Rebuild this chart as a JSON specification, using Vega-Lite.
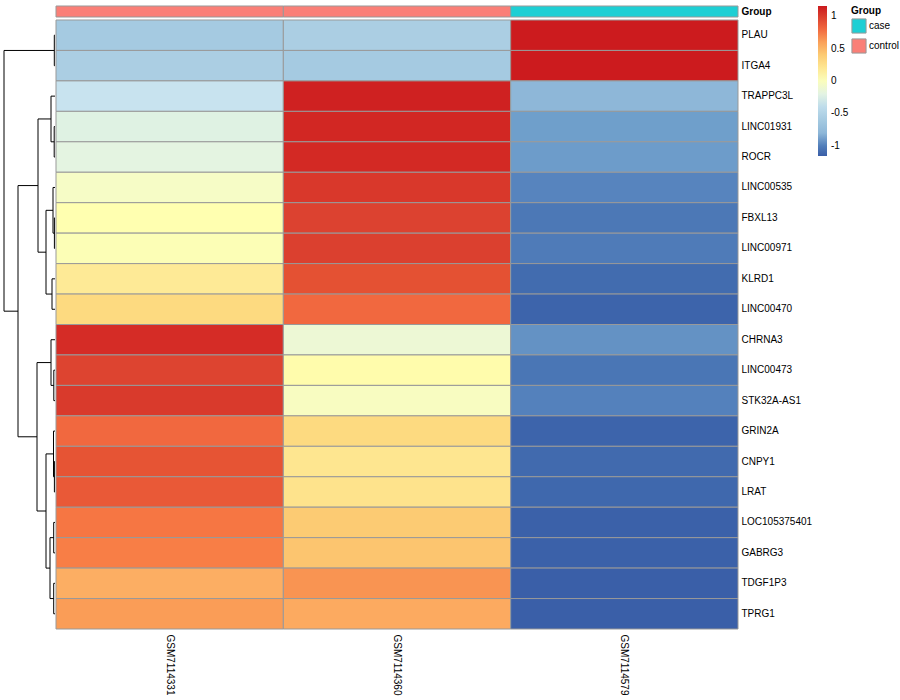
{
  "$schema": "https://vega.github.io/schema/vega-lite/v6.json",
  "padding": {"left": 3, "top": 5, "right": 5, "bottom": 5},
  "config": {
    "view": {"stroke": null},
    "font": "Liberation Sans",
    "axis": {"labelFont": "Liberation Sans", "labelColor": "#000000", "labelFontSize": 10}
  },
  "datasets": {
    "heat": [
      {"gene": "PLAU", "sample": "GSM7114331", "value": -0.60},
      {"gene": "PLAU", "sample": "GSM7114360", "value": -0.55},
      {"gene": "PLAU", "sample": "GSM7114579", "value": 1.15},
      {"gene": "ITGA4", "sample": "GSM7114331", "value": -0.55},
      {"gene": "ITGA4", "sample": "GSM7114360", "value": -0.60},
      {"gene": "ITGA4", "sample": "GSM7114579", "value": 1.15},
      {"gene": "TRAPPC3L", "sample": "GSM7114331", "value": -0.32},
      {"gene": "TRAPPC3L", "sample": "GSM7114360", "value": 1.12},
      {"gene": "TRAPPC3L", "sample": "GSM7114579", "value": -0.80},
      {"gene": "LINC01931", "sample": "GSM7114331", "value": -0.21},
      {"gene": "LINC01931", "sample": "GSM7114360", "value": 1.09},
      {"gene": "LINC01931", "sample": "GSM7114579", "value": -0.88},
      {"gene": "ROCR", "sample": "GSM7114331", "value": -0.19},
      {"gene": "ROCR", "sample": "GSM7114360", "value": 1.08},
      {"gene": "ROCR", "sample": "GSM7114579", "value": -0.89},
      {"gene": "LINC00535", "sample": "GSM7114331", "value": -0.04},
      {"gene": "LINC00535", "sample": "GSM7114360", "value": 1.02},
      {"gene": "LINC00535", "sample": "GSM7114579", "value": -0.98},
      {"gene": "FBXL13", "sample": "GSM7114331", "value": 0.04},
      {"gene": "FBXL13", "sample": "GSM7114360", "value": 0.98},
      {"gene": "FBXL13", "sample": "GSM7114579", "value": -1.02},
      {"gene": "LINC00971", "sample": "GSM7114331", "value": 0.02},
      {"gene": "LINC00971", "sample": "GSM7114360", "value": 0.99},
      {"gene": "LINC00971", "sample": "GSM7114579", "value": -1.01},
      {"gene": "KLRD1", "sample": "GSM7114331", "value": 0.18},
      {"gene": "KLRD1", "sample": "GSM7114360", "value": 0.90},
      {"gene": "KLRD1", "sample": "GSM7114579", "value": -1.08},
      {"gene": "LINC00470", "sample": "GSM7114331", "value": 0.32},
      {"gene": "LINC00470", "sample": "GSM7114360", "value": 0.80},
      {"gene": "LINC00470", "sample": "GSM7114579", "value": -1.12},
      {"gene": "CHRNA3", "sample": "GSM7114331", "value": 1.06},
      {"gene": "CHRNA3", "sample": "GSM7114360", "value": -0.13},
      {"gene": "CHRNA3", "sample": "GSM7114579", "value": -0.93},
      {"gene": "LINC00473", "sample": "GSM7114331", "value": 0.97},
      {"gene": "LINC00473", "sample": "GSM7114360", "value": 0.06},
      {"gene": "LINC00473", "sample": "GSM7114579", "value": -1.03},
      {"gene": "STK32A-AS1", "sample": "GSM7114331", "value": 1.01},
      {"gene": "STK32A-AS1", "sample": "GSM7114360", "value": -0.02},
      {"gene": "STK32A-AS1", "sample": "GSM7114579", "value": -0.99},
      {"gene": "GRIN2A", "sample": "GSM7114331", "value": 0.80},
      {"gene": "GRIN2A", "sample": "GSM7114360", "value": 0.32},
      {"gene": "GRIN2A", "sample": "GSM7114579", "value": -1.12},
      {"gene": "CNPY1", "sample": "GSM7114331", "value": 0.88},
      {"gene": "CNPY1", "sample": "GSM7114360", "value": 0.21},
      {"gene": "CNPY1", "sample": "GSM7114579", "value": -1.09},
      {"gene": "LRAT", "sample": "GSM7114331", "value": 0.86},
      {"gene": "LRAT", "sample": "GSM7114360", "value": 0.24},
      {"gene": "LRAT", "sample": "GSM7114579", "value": -1.10},
      {"gene": "LOC105375401", "sample": "GSM7114331", "value": 0.74},
      {"gene": "LOC105375401", "sample": "GSM7114360", "value": 0.40},
      {"gene": "LOC105375401", "sample": "GSM7114579", "value": -1.14},
      {"gene": "GABRG3", "sample": "GSM7114331", "value": 0.71},
      {"gene": "GABRG3", "sample": "GSM7114360", "value": 0.43},
      {"gene": "GABRG3", "sample": "GSM7114579", "value": -1.14},
      {"gene": "TDGF1P3", "sample": "GSM7114331", "value": 0.50},
      {"gene": "TDGF1P3", "sample": "GSM7114360", "value": 0.65},
      {"gene": "TDGF1P3", "sample": "GSM7114579", "value": -1.15},
      {"gene": "TPRG1", "sample": "GSM7114331", "value": 0.62},
      {"gene": "TPRG1", "sample": "GSM7114360", "value": 0.53},
      {"gene": "TPRG1", "sample": "GSM7114579", "value": -1.15}
    ],
    "ann": [
      {"sample": "GSM7114331", "group": "control", "track": "Group"},
      {"sample": "GSM7114360", "group": "control", "track": "Group"},
      {"sample": "GSM7114579", "group": "case", "track": "Group"}
    ],
    "dendro": [
      {"h1": 0.07, "h2": 0.07, "p1": 0.5, "p2": 1.5},
      {"h1": 0, "h2": 0.07, "p1": 0.5, "p2": 0.5},
      {"h1": 0, "h2": 0.07, "p1": 1.5, "p2": 1.5},
      {"h1": 0.08, "h2": 0.08, "p1": 3.5, "p2": 4.5},
      {"h1": 0, "h2": 0.08, "p1": 3.5, "p2": 3.5},
      {"h1": 0, "h2": 0.08, "p1": 4.5, "p2": 4.5},
      {"h1": 0.4, "h2": 0.4, "p1": 2.5, "p2": 4.0},
      {"h1": 0, "h2": 0.4, "p1": 2.5, "p2": 2.5},
      {"h1": 0.08, "h2": 0.4, "p1": 4.0, "p2": 4.0},
      {"h1": 0.06, "h2": 0.06, "p1": 6.5, "p2": 7.5},
      {"h1": 0, "h2": 0.06, "p1": 6.5, "p2": 6.5},
      {"h1": 0, "h2": 0.06, "p1": 7.5, "p2": 7.5},
      {"h1": 0.2, "h2": 0.2, "p1": 5.5, "p2": 7.0},
      {"h1": 0, "h2": 0.2, "p1": 5.5, "p2": 5.5},
      {"h1": 0.06, "h2": 0.2, "p1": 7.0, "p2": 7.0},
      {"h1": 0.3, "h2": 0.3, "p1": 8.5, "p2": 9.5},
      {"h1": 0, "h2": 0.3, "p1": 8.5, "p2": 8.5},
      {"h1": 0, "h2": 0.3, "p1": 9.5, "p2": 9.5},
      {"h1": 0.9, "h2": 0.9, "p1": 6.25, "p2": 9.0},
      {"h1": 0.2, "h2": 0.9, "p1": 6.25, "p2": 6.25},
      {"h1": 0.3, "h2": 0.9, "p1": 9.0, "p2": 9.0},
      {"h1": 1.7, "h2": 1.7, "p1": 3.25, "p2": 7.625},
      {"h1": 0.4, "h2": 1.7, "p1": 3.25, "p2": 3.25},
      {"h1": 0.9, "h2": 1.7, "p1": 7.625, "p2": 7.625},
      {"h1": 0.12, "h2": 0.12, "p1": 11.5, "p2": 12.5},
      {"h1": 0, "h2": 0.12, "p1": 11.5, "p2": 11.5},
      {"h1": 0, "h2": 0.12, "p1": 12.5, "p2": 12.5},
      {"h1": 0.4, "h2": 0.4, "p1": 10.5, "p2": 12.0},
      {"h1": 0, "h2": 0.4, "p1": 10.5, "p2": 10.5},
      {"h1": 0.12, "h2": 0.4, "p1": 12.0, "p2": 12.0},
      {"h1": 0.06, "h2": 0.06, "p1": 14.5, "p2": 15.5},
      {"h1": 0, "h2": 0.06, "p1": 14.5, "p2": 14.5},
      {"h1": 0, "h2": 0.06, "p1": 15.5, "p2": 15.5},
      {"h1": 0.15, "h2": 0.15, "p1": 13.5, "p2": 15.0},
      {"h1": 0, "h2": 0.15, "p1": 13.5, "p2": 13.5},
      {"h1": 0.06, "h2": 0.15, "p1": 15.0, "p2": 15.0},
      {"h1": 0.13, "h2": 0.13, "p1": 16.5, "p2": 17.5},
      {"h1": 0, "h2": 0.13, "p1": 16.5, "p2": 16.5},
      {"h1": 0, "h2": 0.13, "p1": 17.5, "p2": 17.5},
      {"h1": 0.13, "h2": 0.13, "p1": 18.5, "p2": 19.5},
      {"h1": 0, "h2": 0.13, "p1": 18.5, "p2": 18.5},
      {"h1": 0, "h2": 0.13, "p1": 19.5, "p2": 19.5},
      {"h1": 0.5, "h2": 0.5, "p1": 17.0, "p2": 19.0},
      {"h1": 0.13, "h2": 0.5, "p1": 17.0, "p2": 17.0},
      {"h1": 0.13, "h2": 0.5, "p1": 19.0, "p2": 19.0},
      {"h1": 0.9, "h2": 0.9, "p1": 14.25, "p2": 18.0},
      {"h1": 0.15, "h2": 0.9, "p1": 14.25, "p2": 14.25},
      {"h1": 0.5, "h2": 0.9, "p1": 18.0, "p2": 18.0},
      {"h1": 1.8, "h2": 1.8, "p1": 11.25, "p2": 16.125},
      {"h1": 0.4, "h2": 1.8, "p1": 11.25, "p2": 11.25},
      {"h1": 0.9, "h2": 1.8, "p1": 16.125, "p2": 16.125},
      {"h1": 3.7, "h2": 3.7, "p1": 5.4375, "p2": 13.6875},
      {"h1": 1.7, "h2": 3.7, "p1": 5.4375, "p2": 5.4375},
      {"h1": 1.8, "h2": 3.7, "p1": 13.6875, "p2": 13.6875},
      {"h1": 5.1, "h2": 5.1, "p1": 1.0, "p2": 9.5625},
      {"h1": 0.07, "h2": 5.1, "p1": 1.0, "p2": 1.0},
      {"h1": 3.7, "h2": 5.1, "p1": 9.5625, "p2": 9.5625}
    ]
  },
  "bounds": "flush",
  "hconcat": [
    {
      "width": 51,
      "height": 623,
      "data": {"name": "dendro"},
      "mark": {"type": "rule", "color": "#000000", "strokeWidth": 1},
      "encoding": {
        "x": {"field": "h1", "type": "quantitative", "axis": null,
              "scale": {"domain": [0, 5.1], "reverse": true, "nice": false, "zero": false}},
        "x2": {"field": "h2"},
        "y": {"field": "p1", "type": "quantitative", "axis": null,
              "scale": {"domain": [-0.46, 20], "reverse": true, "nice": false, "zero": false}},
        "y2": {"field": "p2"}
      }
    },
    {
      "bounds": "flush",
      "vconcat": [
        {
          "width": 682,
          "height": 11,
          "data": {"name": "ann"},
          "mark": {"type": "rect", "stroke": "#999999", "strokeWidth": 1},
          "encoding": {
            "x": {"field": "sample", "type": "nominal", "axis": null,
                  "sort": ["GSM7114331", "GSM7114360", "GSM7114579"],
                  "scale": {"paddingInner": 0, "paddingOuter": 0}},
            "y": {"field": "track", "type": "nominal",
                  "scale": {"paddingInner": 0, "paddingOuter": 0},
                  "axis": {"orient": "right", "title": null, "ticks": false, "domain": false,
                           "labelPadding": 3, "labelFontWeight": "bold", "labelFontSize": 10}},
            "color": {"field": "group", "type": "nominal",
                     "scale": {"domain": ["case", "control"], "range": ["#1ECFD4", "#FA7F77"]},
                     "legend": {"orient": "none", "legendX": 847, "legendY": 0,
                                "title": "Group", "titleFontWeight": "bold", "titleFontSize": 10,
                                "titleFont": "Liberation Sans", "titlePadding": 2,
                                "labelFont": "Liberation Sans", "labelFontSize": 10, "labelOffset": 2,
                                "symbolType": "square", "symbolSize": 200,
                                "symbolStrokeColor": "#999999", "symbolStrokeWidth": 1,
                                "symbolOpacity": 1, "rowPadding": 0}}
          }
        },
        {
          "width": 682,
          "height": 609,
          "data": {"name": "heat"},
          "mark": {"type": "rect", "stroke": "#999999", "strokeWidth": 1},
          "encoding": {
            "x": {"field": "sample", "type": "nominal",
                  "sort": ["GSM7114331", "GSM7114360", "GSM7114579"],
                  "scale": {"paddingInner": 0, "paddingOuter": 0},
                  "axis": {"orient": "bottom", "title": null, "ticks": false, "domain": false,
                           "labelAngle": 90, "labelPadding": 5, "labelFontSize": 10}},
            "y": {"field": "gene", "type": "nominal",
                  "sort": ["PLAU", "ITGA4", "TRAPPC3L", "LINC01931", "ROCR", "LINC00535", "FBXL13", "LINC00971", "KLRD1", "LINC00470", "CHRNA3", "LINC00473", "STK32A-AS1", "GRIN2A", "CNPY1", "LRAT", "LOC105375401", "GABRG3", "TDGF1P3", "TPRG1"],
                  "scale": {"paddingInner": 0, "paddingOuter": 0},
                  "axis": {"orient": "right", "title": null, "ticks": false, "domain": false,
                           "labelPadding": 3, "labelFontSize": 10}},
            "fill": {"field": "value", "type": "quantitative",
                     "scale": {
                       "domain": [-1.155, -1.1, -1.02, -0.98, -0.93, -0.88, -0.8, -0.577, -0.32, -0.2, -0.13, -0.03, 0.04, 0.2, 0.32, 0.43, 0.5, 0.62, 0.66, 0.72, 0.8, 0.88, 0.98, 1.06, 1.155],
                       "range": ["#3A5EA7", "#3F68AD", "#4C78B6", "#5784BE", "#6492C4", "#6F9FCB", "#8EB7D8", "#A8CCE2", "#C8E3EF", "#E3F3E3", "#EDF8D5", "#F7FCC4", "#FFFFB0", "#FEE792", "#FDDA80", "#FCC56F", "#FCAE63", "#FA9D57", "#F99150", "#F87A44", "#F1683F", "#E65434", "#DC4230", "#D52C26", "#CB1A1E"],
                       "clamp": true
                     },
                     "legend": {"orient": "none", "legendX": 814, "legendY": 0,
                                "title": null, "direction": "vertical",
                                "gradientLength": 150, "gradientThickness": 9,
                                "gradientStrokeWidth": 0,
                                "values": [-1, -0.5, 0, 0.5, 1],
                                "labelExpr": "'' + datum.value",
                                "labelFont": "Liberation Sans", "labelFontSize": 10, "labelOffset": 4}}
          }
        }
      ],
      "spacing": 3
    }
  ],
  "spacing": 1
}
